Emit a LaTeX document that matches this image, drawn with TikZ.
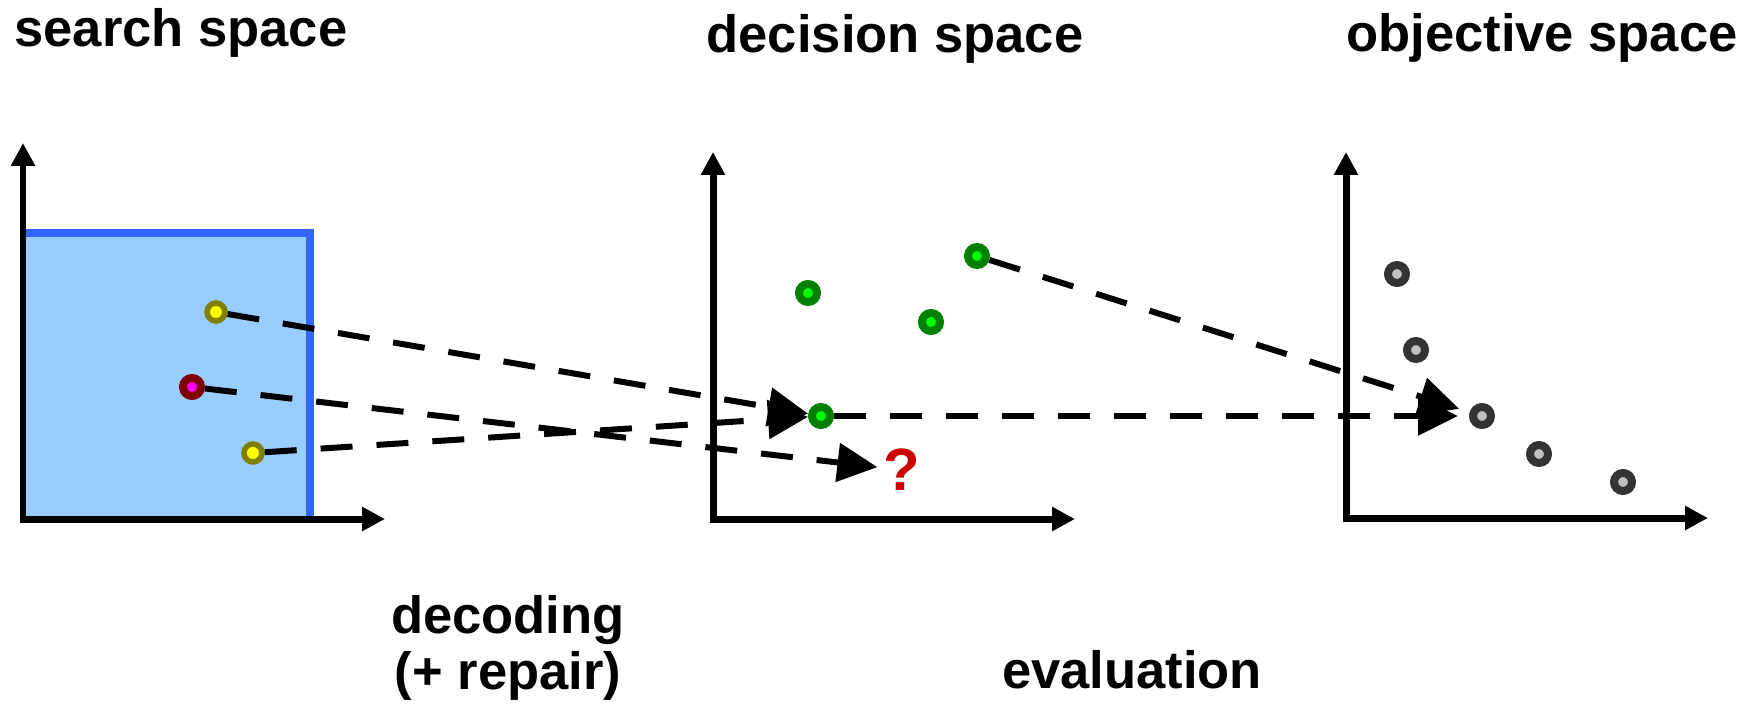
\documentclass[tikz,border=0pt]{standalone}
\usepackage{fontspec}
\setmainfont{Liberation Sans}
\usetikzlibrary{positioning, arrows.meta}
\newcommand{\tightlines}{\setlength{\lineskiplimit}{-1cm}}

\begin{document}
\begin{tikzpicture}[x=0.02cm, y=-0.02cm,
    every node/.style={font=\bfseries\fontsize{29.9}{34.1}\selectfont},
    axisline/.style={line width=0.14cm, -{Triangle[length=0.46cm, width=0.46cm]}},
    jump/.style={line width=0.12cm, dash pattern=on 0.64cm off 0.48cm, -{Triangle[length=0.8cm, width=0.76cm]}},
    pt/.style={circle, minimum size=0.36cm, inner sep=0pt, line width=0.16cm},
    ypt/.style={pt, line width=0.11cm, draw={rgb,255:red,128;green,128;blue,0}, fill={rgb,255:red,255;green,255;blue,0}},
    rpt/.style={pt, draw={rgb,255:red,128;green,0;blue,0}, fill={rgb,255:red,255;green,0;blue,255}},
    gpt/.style={pt, draw={rgb,255:red,0;green,128;blue,0}, fill={rgb,255:red,0;green,255;blue,0}},
    opt/.style={pt, draw={rgb,255:red,51;green,51;blue,51}, fill={rgb,255:red,192;green,192;blue,192}}]
  \useasboundingbox (0,0) rectangle (1758,713);

  % search space
  \fill[fill={rgb,255:red,153;green,204;blue,255}] (21,519) rectangle (310,233);
  \draw[line width=0.16cm, draw={rgb,255:red,51;green,102;blue,255}] (23,233) -- (310,233) -- (310,519);
  \draw[axisline] (23,522) -- (23,143);
  \draw[axisline] (20,519) -- (385,519);

  % decision space
  \draw[axisline] (713,522) -- (713,152);
  \draw[axisline] (710,519) -- (1075,519);

  % objective space
  \draw[axisline] (1346,521) -- (1346,152);
  \draw[axisline] (1343,518) -- (1708,518);

  \draw
    (216,312) node[ypt] (y1){}
    (192,387) node[rpt] (r1){}
    (253,453) node[ypt] (y2){}
    (808,293) node[gpt] (g1){}
    (931,322) node[gpt] (g2){}
    (977,256) node[gpt] (g3){}
    (821,416) node[gpt] (g4){}
    (902,470) node[inner sep=0.12cm, text={rgb,255:red,204;green,0;blue,0}, font=\bfseries\fontsize{34}{34}\selectfont] (qm){?}
    (1397,274) node[opt] (o1){}
    (1416,350) node[opt] (o2){}
    (1482,416) node[opt] (o3){}
    (1539,454) node[opt] (o4){}
    (1623,482) node[opt] (o5){};

  \begin{scope}[jump]
    \draw (y1) to (g4);
    \draw (y2) to (g4);
    \draw (r1) to (qm);
    \draw[shorten >=0.22cm] (g4) to (o3);
    \draw[shorten >=0.22cm] (g3) to (o3);
  \end{scope}

  \node[anchor=base] (search) at (181,47) {search space};
  \node[anchor=base] (decision) at (895,53) {decision space};
  \node[anchor=base] (objective) at (1542,52) {objective space};
  \node[anchor=base, align=center, font={\bfseries\fontsize{29.9}{31.8}\selectfont\tightlines}] (decoding) at (508,689) {decoding\\(+ repair)};
  \node[anchor=base] (evaluation) at (1132,688) {evaluation};
\end{tikzpicture}
\end{document}
